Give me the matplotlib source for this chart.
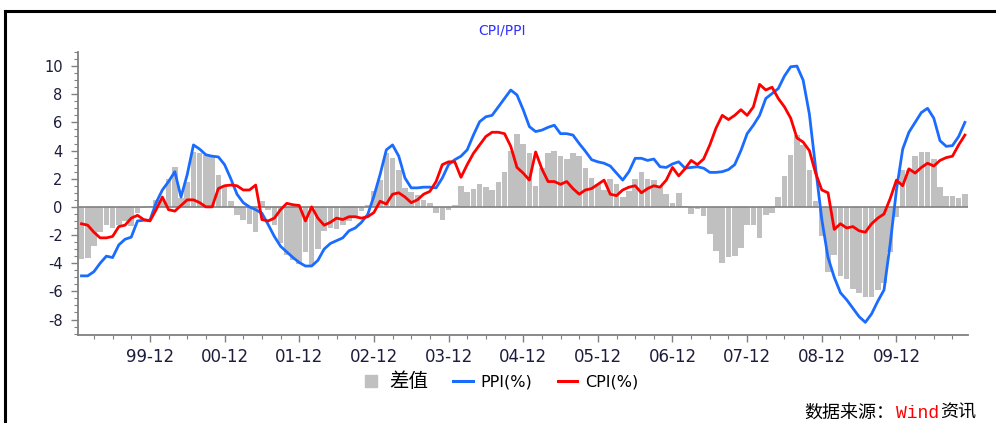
import numpy as np
import matplotlib.pyplot as plt
from matplotlib.lines import Line2D
from matplotlib.ticker import MultipleLocator, FixedLocator

plt.rcParams['axes.unicode_minus'] = False
plt.rcParams['font.family'] = ['DejaVu Sans', 'Noto Sans CJK SC']

# monthly yoy, 1999-01 .. 2010-11
ppi = [-4.9, -4.9, -4.6, -4.0, -3.5, -3.6, -2.7, -2.3, -2.15, -1.0, -0.95, -0.95,
       0.3, 1.2, 1.8, 2.5, 0.7, 2.3, 4.4, 4.1, 3.7, 3.6, 3.55, 3.0,
       2.0, 0.9, 0.3, 0.0, -0.2, -0.45, -1.25, -2.1, -2.8, -3.2, -3.6, -3.95,
       -4.2, -4.2, -3.8, -3.0, -2.6, -2.4, -2.2, -1.7, -1.5, -1.1, -0.55, 0.75,
       2.3, 4.05, 4.4, 3.6, 2.05, 1.35, 1.35, 1.4, 1.4, 1.35, 2.05, 3.0,
       3.35, 3.6, 4.05, 5.1, 6.05, 6.4, 6.5, 7.1, 7.7, 8.3, 7.95, 6.9,
       5.7, 5.35, 5.45, 5.65, 5.8, 5.2, 5.2, 5.1, 4.5, 3.95, 3.35, 3.2,
       3.1, 2.9, 2.4, 1.9, 2.5, 3.45, 3.45, 3.3, 3.4, 2.85, 2.8, 3.05,
       3.2, 2.75, 2.8, 2.85, 2.75, 2.45, 2.45, 2.5, 2.65, 3.0, 4.0, 5.2,
       5.8, 6.5, 7.7, 8.05, 8.4, 9.3, 9.95, 10.0, 9.0, 6.6, 2.8, -0.9,
       -3.6, -5.0, -6.1, -6.6, -7.2, -7.8, -8.2, -7.6, -6.7, -5.9, -2.6, 1.2,
       4.1, 5.3, 6.0, 6.7, 7.0, 6.3, 4.7, 4.3, 4.35, 5.0, 6.0]

cpi = [-1.2, -1.3, -1.8, -2.2, -2.2, -2.1, -1.4, -1.3, -0.8, -0.6, -0.9, -1.0,
       -0.2, 0.7, -0.2, -0.3, 0.1, 0.5, 0.5, 0.3, 0.0, 0.0, 1.3, 1.5,
       1.55, 1.5, 1.2, 1.2, 1.55, -0.9, -1.0, -0.8, -0.2, 0.25, 0.15, 0.1,
       -1.0, 0.0, -0.8, -1.3, -1.1, -0.8, -0.9, -0.7, -0.7, -0.8, -0.7, -0.4,
       0.4, 0.2, 0.9, 1.0, 0.7, 0.3, 0.5, 0.9, 1.1, 1.8, 3.0, 3.2,
       3.2, 2.1, 3.0, 3.8, 4.4, 5.0, 5.3, 5.3, 5.2, 4.3, 2.8, 2.4,
       1.9, 3.9, 2.7, 1.8, 1.8, 1.6, 1.8, 1.3, 0.9, 1.2, 1.3, 1.6,
       1.9, 0.9, 0.8, 1.2, 1.4, 1.5, 1.0, 1.3, 1.5, 1.4, 1.9, 2.8,
       2.2, 2.7, 3.3, 3.0, 3.4, 4.4, 5.6, 6.5, 6.2, 6.5, 6.9, 6.5,
       7.1, 8.7, 8.3, 8.5, 7.7, 7.1, 6.3, 4.9, 4.6, 4.0, 2.4, 1.2,
       1.0, -1.6, -1.2, -1.5, -1.4, -1.7, -1.8, -1.2, -0.8, -0.5, 0.6, 1.9,
       1.5, 2.7, 2.4, 2.8, 3.1, 2.9, 3.3, 3.5, 3.6, 4.4, 5.1]

tick_labels = ['99-12', '00-12', '01-12', '02-12', '03-12', '04-12',
               '05-12', '06-12', '07-12', '08-12', '09-12']

x = np.arange(len(ppi))
diff = np.array(ppi) - np.array(cpi)   # 差值 = PPI - CPI

fig = plt.figure(figsize=(9.96, 4.23), dpi=100)
ax = fig.add_axes([78/996, 1-335/423, 890/996, 283/423])

ax.bar(x, diff, width=0.9, color='#c0c0c0', zorder=1)
ax.axhline(0, color='#808080', lw=1.2, zorder=2)
ax.plot(x, ppi, color='#1a6cff', lw=2.0, zorder=3)
ax.plot(x, cpi, color='#ff0000', lw=2.0, zorder=4)

ax.set_xlim(-0.56, 142.5)
ax.set_ylim(-9.1, 11.0)

for s in ['top', 'right']:
    ax.spines[s].set_visible(False)
for s in ['left', 'bottom']:
    ax.spines[s].set_color('#808080')
    ax.spines[s].set_linewidth(1.3)

ax.set_yticks(np.arange(-8, 11, 2))
ax.yaxis.set_minor_locator(MultipleLocator(0.5))
ax.set_xticks([12*k + 11 for k in range(len(tick_labels))])
ax.set_xticklabels(tick_labels)
ax.xaxis.set_minor_locator(FixedLocator(np.arange(2, 143, 3)))

ax.tick_params(axis='y', which='major', length=5, width=1, color='#808080',
               labelsize=10.5, labelcolor='#1c1c3c', pad=6)
ax.tick_params(axis='y', which='minor', length=3, width=0.8, color='#808080')
ax.tick_params(axis='x', which='major', length=5, width=1, color='#808080',
               labelsize=12, labelcolor='#1c1c3c', pad=4)
ax.tick_params(axis='x', which='minor', length=3, width=0.8, color='#808080')

fig.text(502/996, 1-31/423, 'CPI/PPI', color='#3030ff', fontsize=10,
         ha='center', va='center')

handles = [Line2D([], [], color='#c0c0c0', marker='s', markersize=9, linestyle='none'),
           Line2D([], [], color='#1a6cff', lw=2.2),
           Line2D([], [], color='#ff0000', lw=2.2)]
leg = fig.legend(handles, ['差值', 'PPI(%)', 'CPI(%)'], loc='center',
                 bbox_to_anchor=(500/996, 1-381/423), ncol=3, frameon=False,
                 handlelength=1.2, handletextpad=0.5, columnspacing=1.6,
                 fontsize=11.5)
leg.get_texts()[0].set_fontsize(14)

# source note at the bottom right
y_src = 1 - 422/423
fig.text(894/996, y_src, '数据来源：', fontsize=13, va='bottom', ha='right',
         family=['Noto Sans CJK SC'])
fig.text(896/996, y_src, 'Wind', fontsize=13, va='bottom', color='red',
         family=['Liberation Mono'])
fig.text(940/996, y_src, '资讯', fontsize=13, va='bottom',
         family=['Noto Sans CJK SC'])

# outer frame
fig.add_artist(Line2D([5/996, 1.0], [1-11/423, 1-11/423], transform=fig.transFigure,
                      color='black', lw=2.2))
fig.add_artist(Line2D([5/996, 5/996], [1-11/423, 0.0], transform=fig.transFigure,
                      color='black', lw=2.2))

fig.savefig('out.png', dpi=100)
